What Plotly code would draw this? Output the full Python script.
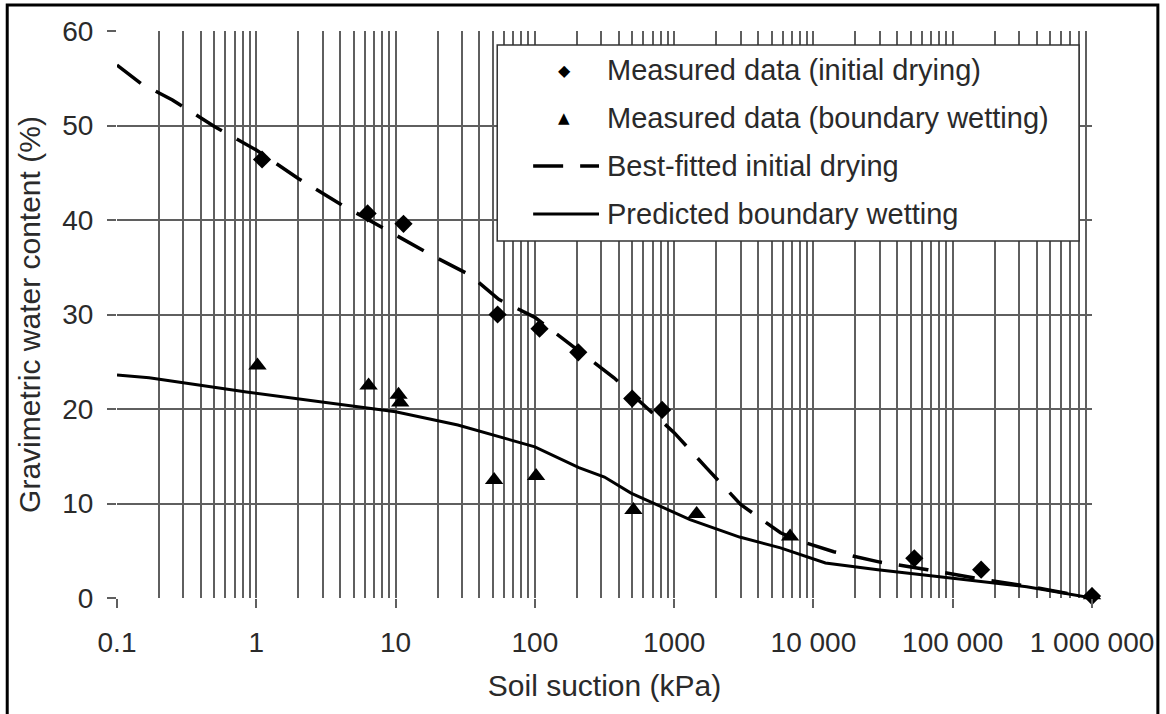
import plotly.graph_objects as go

# ---------------- data ----------------
dry_x = [1.1, 6.3, 11.4, 54, 108, 205, 500, 820, 53000, 160000, 1000000]
dry_y = [46.4, 40.7, 39.6, 30.0, 28.5, 26.0, 21.1, 19.9, 4.2, 3.0, 0.2]

wet_x = [1.02, 6.4, 10.5, 10.8, 51, 102, 510, 1450, 6800, 1000000]
wet_y = [24.6, 22.5, 21.5, 20.7, 12.5, 12.9, 9.3, 8.9, 6.5, 0.3]

fit_x = [0.1, 0.15, 0.25, 0.5, 1, 2, 4, 8, 18, 34, 55, 100, 190, 370, 650, 1000,
         1700, 3000, 5800, 8500, 14000, 30000, 66000, 145000, 400000, 1000000]
fit_y = [56.4, 54.4, 52.7, 49.9, 47.4, 44.4, 41.7, 39.2, 36.3, 34.2, 31.6, 29.7,
         26.6, 23.3, 20.0, 17.5, 13.8, 9.9, 6.9, 5.9, 4.9, 3.8, 3.0, 2.1, 1.1, 0.0]

pred_x = [0.1, 0.17, 0.85, 2.2, 10, 28, 100, 207, 316, 490, 780, 1300, 2950, 5800,
          12200, 29000, 100000, 340000, 1000000]
pred_y = [23.6, 23.3, 21.8, 21.0, 19.7, 18.3, 16.0, 13.8, 12.8, 11.1, 9.8, 8.3,
          6.45, 5.3, 3.7, 3.0, 2.1, 1.2, 0.0]

x_tickvals = [0.1, 1, 10, 100, 1000, 10000, 100000, 1000000]
x_ticktext = ["0.1", "1", "10", "100", "1000", "10 000", "100 000", "1 000 000"]
y_tickvals = [0, 10, 20, 30, 40, 50, 60]

legend_labels = ["Measured data (initial drying)",
                 "Measured data (boundary wetting)",
                 "Best-fitted initial drying",
                 "Predicted boundary wetting"]

# ---------------- layout geometry (pixels) ----------------
W, H = 1166, 714
L, R, T, B = 117, 72, 31, 116
PW, PH = W - L - R, H - T - B


def px(x):
    return (x - L) / PW


def py(y):
    return (H - B - y) / PH


FONT = "Liberation Sans, Arial, sans-serif"
TXT = "#2a2a2a"
GRID = "#5f5f5f"

fig = go.Figure()

fig.add_trace(go.Scatter(x=fit_x, y=fit_y, mode="lines",
                         line=dict(color="black", width=3.5, dash="30px,17px"),
                         showlegend=False, hoverinfo="skip"))
fig.add_trace(go.Scatter(x=pred_x, y=pred_y, mode="lines",
                         line=dict(color="black", width=3),
                         showlegend=False, hoverinfo="skip"))
fig.add_trace(go.Scatter(x=dry_x, y=dry_y, mode="markers",
                         marker=dict(symbol="diamond", size=14, color="black"),
                         cliponaxis=False, showlegend=False))
fig.add_trace(go.Scatter(x=wet_x, y=wet_y, mode="markers",
                         marker=dict(symbol="triangle-up", size=16, color="black"),
                         cliponaxis=False, showlegend=False))

fig.update_layout(
    width=W, height=H,
    margin=dict(l=L, r=R, t=T, b=B),
    paper_bgcolor="white", plot_bgcolor="white",
    font=dict(family=FONT, color=TXT, size=28),
    showlegend=False,
    xaxis=dict(
        type="log", range=[-1, 6],
        tickvals=x_tickvals, ticktext=x_ticktext,
        ticks="outside", ticklen=9, tickwidth=1.5, tickcolor=GRID,
        ticklabelstandoff=10,
        showgrid=True, gridcolor=GRID, gridwidth=1.5,
        minor=dict(dtick="D1", showgrid=True, gridcolor=GRID, gridwidth=1.5, ticks=""),
        showline=False, zeroline=False,
        tickfont=dict(size=28, color=TXT),
        title=dict(text="Soil suction (kPa)", font=dict(size=30, color=TXT), standoff=18),
    ),
    yaxis=dict(
        range=[0, 60], tickvals=y_tickvals,
        ticks="outside", ticklen=9, tickwidth=1.5, tickcolor=GRID,
        ticklabelstandoff=8,
        showgrid=True, gridcolor=GRID, gridwidth=1.5,
        showline=False, zeroline=False,
        tickfont=dict(size=28, color=TXT),
        title=dict(text="Gravimetric water content (%)", font=dict(size=30, color=TXT), standoff=12),
    ),
)

shapes = []
# outer frame
shapes.append(dict(type="rect", xref="paper", yref="paper",
                   x0=px(7), x1=px(1160), y0=py(5), y1=py(720),
                   line=dict(color="black", width=3), fillcolor="rgba(0,0,0,0)", layer="above"))
# legend box
shapes.append(dict(type="rect", xref="paper", yref="paper",
                   x0=px(498), x1=px(1081), y0=py(45), y1=py(241),
                   line=dict(color="#333333", width=1.5), fillcolor="white", layer="above"))
row_y = [70, 118, 166, 214]
text_x = 606
# legend line samples
shapes.append(dict(type="line", xref="paper", yref="paper",
                   x0=px(534), x1=px(600), y0=py(row_y[2]), y1=py(row_y[2]),
                   line=dict(color="black", width=3.5, dash="30px,17px"), layer="above"))
shapes.append(dict(type="line", xref="paper", yref="paper",
                   x0=px(534), x1=px(600), y0=py(row_y[3]), y1=py(row_y[3]),
                   line=dict(color="black", width=3), layer="above"))
fig.update_layout(shapes=shapes)

ann = []
for lab, ry in zip(legend_labels, row_y):
    ann.append(dict(xref="paper", yref="paper", x=px(text_x), y=py(ry),
                    xanchor="left", yanchor="middle", text=lab, showarrow=False,
                    font=dict(size=29, color=TXT, family=FONT)))
ann.append(dict(xref="paper", yref="paper", x=px(565), y=py(row_y[0]),
                xanchor="center", yanchor="middle", text="\u25c6", showarrow=False,
                font=dict(size=16, color="black", family="DejaVu Sans")))
ann.append(dict(xref="paper", yref="paper", x=px(565), y=py(row_y[1]),
                xanchor="center", yanchor="middle", text="\u25b2", showarrow=False,
                font=dict(size=15, color="black", family="DejaVu Sans")))
fig.update_layout(annotations=ann)

fig.write_html("out.html")
